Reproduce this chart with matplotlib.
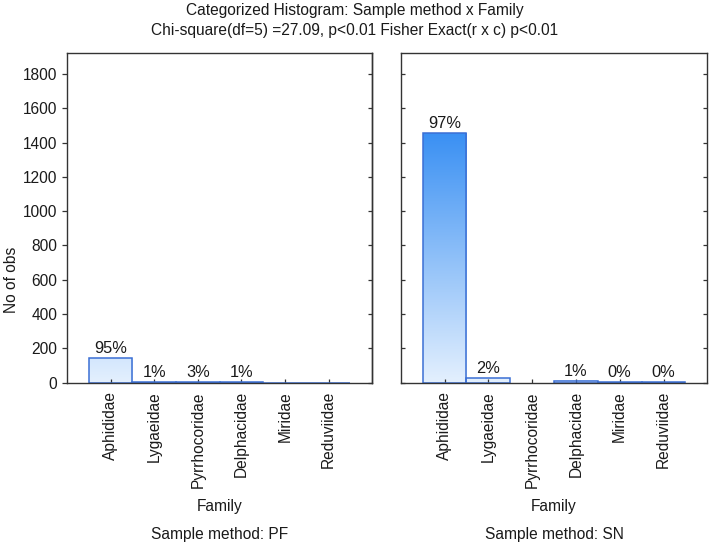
import numpy as np
import matplotlib
matplotlib.use("Agg")
import matplotlib.pyplot as plt
from matplotlib.colors import LinearSegmentedColormap

plt.rcParams['font.family'] = ['Liberation Sans', 'DejaVu Sans']
plt.rcParams['font.size'] = 11

families = ["Aphididae", "Lygaeidae", "Pyrrhocoridae", "Delphacidae", "Miridae", "Reduviidae"]
pf_counts = [144, 2, 4, 2, 0, 0]
sn_counts = [1455, 25, np.nan, 12, 5, 3]
pf_labels = ["95%", "1%", "3%", "1%", "", ""]
sn_labels = ["97%", "2%", "", "1%", "0%", "0%"]
yticks = [0, 200, 400, 600, 800, 1000, 1200, 1400, 1600, 1800]
ymax = 1920
panel_titles = ["Sample method: PF", "Sample method: SN"]
title1 = "Categorized Histogram: Sample method x Family"
title2 = "Chi-square(df=5) =27.09, p<0.01 Fisher Exact(r x c) p<0.01"

W, H = 709, 546
fig = plt.figure(figsize=(W / 100, H / 100), dpi=100)

def fx(px):
    return px / W

def fy(py):
    return 1 - py / H

cmap = LinearSegmentedColormap.from_list("bl", ["#e4f0fe", "#3a90f3"])
edge = "#3b6fd4"
vmax = np.nanmax(sn_counts)
fs = 11.2

panels = [
    (67.0, 372.3, pf_counts, pf_labels, panel_titles[0], True),
    (400.7, 707.3, sn_counts, sn_labels, panel_titles[1], False),
]
top_px, bot_px = 53.3, 382.7

for (l, r, counts, labels, ptitle, first) in panels:
    ax = fig.add_axes([fx(l), fy(bot_px), fx(r - l), (bot_px - top_px) / H])
    x = np.arange(len(families))
    vals = np.array(counts, dtype=float)
    for xi, h in zip(x, vals):
        if np.isnan(h) or h <= 0:
            continue
        grad = np.linspace(0, h, 256).reshape(-1, 1)
        ax.imshow(grad, extent=(xi - 0.5, xi + 0.5, 0, h), cmap=cmap,
                  vmin=0, vmax=vmax, aspect='auto', origin='lower',
                  interpolation='bilinear', zorder=1)
    mask = ~np.isnan(vals)
    ax.bar(x[mask], vals[mask], width=1.0, facecolor='none',
           edgecolor=edge, linewidth=1.1, zorder=2)
    for xi, h, lab in zip(x, vals, labels):
        if lab:
            ax.annotate(lab, (xi, h), xytext=(0, 1.5), textcoords='offset points',
                        ha='center', va='bottom', fontsize=11.8, color='#1a1a1a')
    ax.set_xlim(-1, 6)
    ax.set_ylim(0, ymax)
    ax.set_xticks(x)
    ax.set_xticklabels(families, rotation=90, color='#1a1a1a', fontsize=fs)
    ax.tick_params(axis='x', direction='in', length=3, width=0.9, pad=6,
                   color='#333333')
    ax.set_yticks(yticks)
    if first:
        ax.tick_params(axis='y', left=True, right=False, labelleft=True,
                       direction='out', length=3.5, width=0.9,
                       color='#333333', labelcolor='#1a1a1a', labelsize=fs)
        ax2 = ax.secondary_yaxis('right')
        ax2.set_yticks(yticks)
        ax2.tick_params(direction='in', length=3, width=0.9, labelright=False,
                        color='#333333')
        for s in ax2.spines.values():
            s.set_linewidth(1.0)
            s.set_color('#333333')
    else:
        ax.tick_params(axis='y', left=True, right=True, labelleft=False,
                       direction='in', length=3, width=0.9, color='#333333')
    for s in ax.spines.values():
        s.set_linewidth(1.0)
        s.set_color('#333333')
    cx = (l + r) / 2
    fig.text(fx(cx), fy(506), "Family", ha='center', va='center',
             fontsize=fs, color='#1a1a1a')
    fig.text(fx(cx), fy(535), ptitle, ha='center', va='center',
             fontsize=fs, color='#1a1a1a')

fig.text(fx(12), fy(280), "No of obs", rotation=90, ha='center', va='center',
         fontsize=fs, color='#1a1a1a')
fig.text(0.5, fy(11), title1, ha='center', va='center', fontsize=fs,
         color='#1a1a1a')
fig.text(0.5, fy(30), title2, ha='center', va='center', fontsize=fs,
         color='#1a1a1a')

fig.savefig("out.png", dpi=100)
